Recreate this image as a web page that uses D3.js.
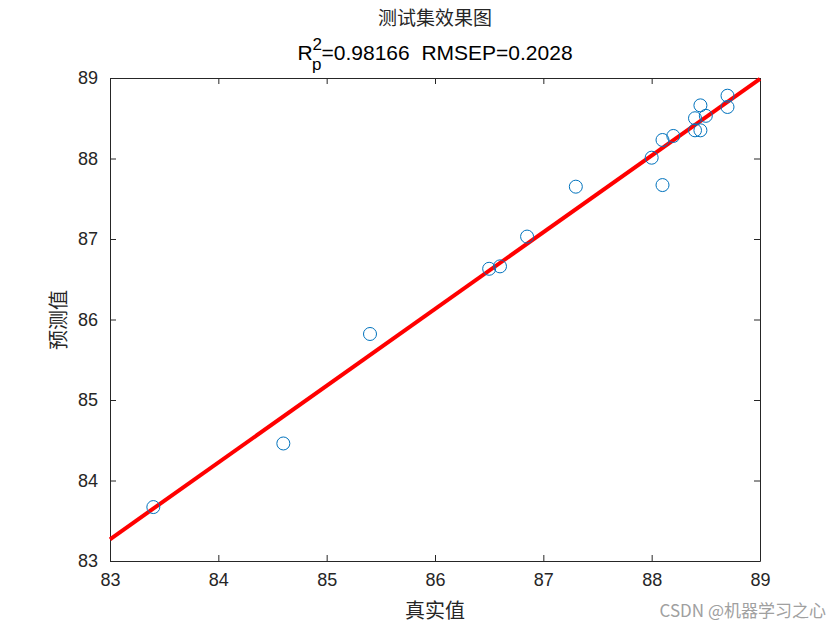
<!DOCTYPE html>
<html>
<head>
<meta charset="utf-8">
<script src="https://cdn.jsdelivr.net/npm/d3@7"></script>
<style>
  body { margin: 0; background: #fff; }
</style>
</head>
<body>
<div id="chart"></div>
<script>
// true / predicted values of the test set
const actual = [83.4, 84.6, 85.4, 86.5, 86.6, 86.85, 87.3, 88.0, 88.1, 88.1, 88.2, 88.4, 88.4, 88.45, 88.45, 88.5, 88.7, 88.7];
const predicted = [83.67, 84.46, 85.82, 86.63, 86.66, 87.03, 87.65, 88.01, 87.67, 88.23, 88.28, 88.5, 88.35, 88.35, 88.66, 88.53, 88.78, 88.64];
// fitted line endpoints
const fitX = [83, 89];
const fitY = [83.27, 88.99];
const ticks = [83, 84, 85, 86, 87, 88, 89];

const width = 840, height = 630;
const margin = { left: 110, right: 80, top: 78, bottom: 69 };

const svg = d3.select("#chart").append("svg")
    .attr("width", width)
    .attr("height", height);

let x = d3.scaleLinear().domain([83, 89]).range([margin.left, width - margin.right]);
let y = d3.scaleLinear().domain([83, 89]).range([height - margin.bottom, margin.top]);

const tickFont = "Liberation Sans, Arial, sans-serif";
const cjkFont = "'Noto Sans CJK SC', sans-serif";

// axes box (ticks inward on all four sides)
function styleAxis(g) {
    g.select(".domain").attr("stroke", "#262626");
    g.selectAll(".tick line").attr("stroke", "#262626");
    g.selectAll(".tick text").attr("fill", "#262626")
        .style("font-family", tickFont).style("font-size", "18px");
}
svg.append("g")
    .attr("transform", `translate(0,${y(83)})`)
    .call(d3.axisBottom(x).tickValues(ticks).tickFormat(d3.format("d")).tickSizeInner(-6).tickSizeOuter(0).tickPadding(12))
    .call(styleAxis);
svg.append("g")
    .attr("transform", `translate(0,${y(89)})`)
    .call(d3.axisTop(x).tickValues(ticks).tickSizeInner(-6).tickSizeOuter(0).tickFormat(""))
    .call(styleAxis);
svg.append("g")
    .attr("transform", `translate(${x(83)},0)`)
    .call(d3.axisLeft(y).tickValues(ticks).tickFormat(d3.format("d")).tickSizeInner(-6).tickSizeOuter(0).tickPadding(12))
    .call(styleAxis);
svg.append("g")
    .attr("transform", `translate(${x(89)},0)`)
    .call(d3.axisRight(y).tickValues(ticks).tickSizeInner(-6).tickSizeOuter(0).tickFormat(""))
    .call(styleAxis);

// fitted line
svg.append("line")
    .attr("x1", x(fitX[0])).attr("y1", y(fitY[0]))
    .attr("x2", x(fitX[1])).attr("y2", y(fitY[1]))
    .attr("stroke", "#ff0000")
    .attr("stroke-width", 4);

// points
svg.append("g").selectAll("circle")
    .data(actual.map((d, i) => ({ a: d, p: predicted[i] })))
    .enter()
    .append("circle")
    .attr("cx", d => x(d.a))
    .attr("cy", d => y(d.p))
    .attr("r", 6.5)
    .attr("fill", "none")
    .attr("stroke", "#0072BD")
    .attr("stroke-width", 1);

// titles
svg.append("text")
    .attr("x", 435).attr("y", 25)
    .attr("text-anchor", "middle")
    .style("font-family", cjkFont).style("font-size", "19px")
    .attr("fill", "#262626")
    .text("测试集效果图");

let sub = svg.append("text")
    .attr("x", 435).attr("y", 60)
    .attr("text-anchor", "middle")
    .style("font-family", tickFont).style("font-size", "21px")
    .attr("fill", "#000");
sub.append("tspan").text("R");
sub.append("tspan").attr("dy", -10).style("font-size", "17px").text("2");
sub.append("tspan").attr("dx", -10).attr("dy", 20).style("font-size", "17px").text("p");
sub.append("tspan").attr("dy", -10).text("=0.98166\u00a0\u00a0RMSEP=0.2028");

// axis labels
svg.append("text")
    .attr("x", 435).attr("y", 618)
    .attr("text-anchor", "middle")
    .style("font-family", cjkFont).style("font-size", "20px")
    .attr("fill", "#262626")
    .text("真实值");

svg.append("text")
    .attr("transform", "translate(66,320) rotate(-90)")
    .attr("text-anchor", "middle")
    .style("font-family", cjkFont).style("font-size", "20px")
    .attr("fill", "#262626")
    .text("预测值");

// watermark
svg.append("text")
    .attr("x", 826).attr("y", 617)
    .attr("text-anchor", "end")
    .style("font-family", cjkFont).style("font-size", "17px")
    .attr("fill", "#a0a0a0")
    .text("CSDN @机器学习之心");
</script>
</body>
</html>
